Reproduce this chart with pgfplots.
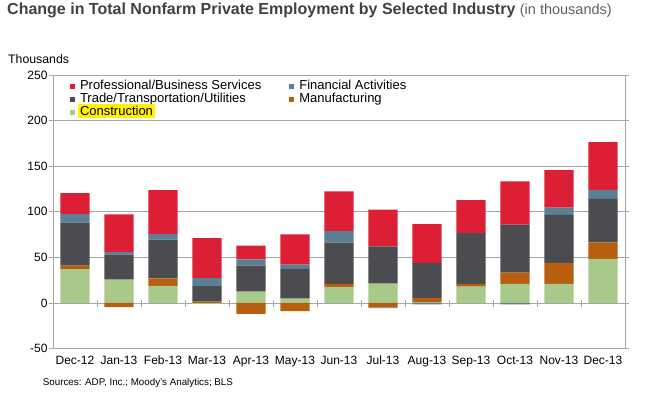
\documentclass[border=0pt]{standalone}
\usepackage{pgfplots}
\usepackage{pgfplotstable}
\pgfplotsset{compat=1.18}
\usepackage{fontspec}
\setmainfont{Liberation Sans}

\definecolor{prof}{RGB}{221,31,53}
\definecolor{fin}{RGB}{91,127,149}
\definecolor{trade}{RGB}{75,76,80}
\definecolor{mfg}{RGB}{184,95,15}
\definecolor{con}{RGB}{169,201,138}
\definecolor{gridgray}{RGB}{166,166,166}
\definecolor{titlegray}{RGB}{64,64,70}
\definecolor{subgray}{RGB}{96,96,100}

% positive parts (stacked upward)
\pgfplotstableread{
idx con  mfg  trade fin  prof
0   37   4    47    9.5  23
1   25.5 0    27.5  3    41
2   18.6 8.4  42.3  6.2  48.2
3   0    1.5  17    8.8  43.8
4   12.4 0    28.5  6.9  15
5   4.7  0    32.5  4.8  33.2
6   17.5 3.3  45.2  12.8 43.5
7   21.2 0    40.8  0    40.2
8   1    4.5  38.3  0    42.7
9   17.9 2.9  55.8  0    36.2
10  20.8 12.4 52.6  0    47.4
11  20.8 23   52.9  7.7  41.2
12  48.2 18.2 47.8  9.9  52.2
}\pos
% negative parts (stacked downward)
\pgfplotstableread{
idx con  mfg   fin
0   0    0     0
1   0    -4.7  0
2   0    0     0
3   -1.5 0     0
4   0    -12   0
5   0    -9    0
6   0    0     0
7   0    -5    -0.8
8   0    0     -1.5
9   0    0     0
10  0    0     -1.5
11  0    0     0
12  0    0     0
}\neg

\pgfplotsset{
  mybar/.style={fill=#1, draw=none,
    legend image code/.code={\fill[fill=#1] (0pt,-2.5pt) rectangle (5pt,2.5pt);}},
  common/.style={
    at={(0,0)}, anchor=south west,
    scale only axis, width=572pt, height=273.5pt,
    xmin=-0.5, xmax=12.5, ymin=-50, ymax=250,
    ybar stacked, bar width=0.66,
  }
}

\begin{document}
\begin{tikzpicture}
\path[use as bounding box] (-53pt,-44.5pt) rectangle (593pt,348.5pt);

\begin{axis}[common,
  xtick=data,
  xticklabels={Dec-12,Jan-13,Feb-13,Mar-13,Apr-13,May-13,Jun-13,Jul-13,Aug-13,Sep-13,Oct-13,Nov-13,Dec-13},
  ytick={-50,0,50,100,150,200,250},
  /pgf/number format/assume math mode=true,
  ymajorgrids, grid style={gridgray, line width=0.8pt},
  axis line style={gridgray, line width=0.8pt},
  x tick style={draw=none},
  y tick style={gridgray, line width=0.8pt},
  ytick align=outside, xtick align=outside, major tick length=4pt,
  tick label style={font=\fontsize{12}{12}\selectfont, text=black},
  yticklabel style={xshift=2pt},
  reverse legend,
  legend columns=2,
  legend cell align=left,
  legend style={draw=none, fill=none, inner sep=0pt, outer sep=0pt,
    at={(17pt,268.5pt)}, anchor=north west,
    font=\fontsize{13}{13}\selectfont,
    nodes={inner sep=0pt, text height=9.5pt, text depth=3.5pt},
    /tikz/every odd column/.style={column sep=5pt},
    /tikz/every even column/.style={column sep=28pt}},
]
\addplot[mybar=con] table[x=idx,y=con]{\pos};
\addlegendentry{\kern-2pt\setlength{\fboxsep}{2pt}\colorbox{yellow}{Construction}}
\addplot[mybar=mfg] table[x=idx,y=mfg]{\pos};
\addlegendentry{Manufacturing}
\addplot[mybar=trade] table[x=idx,y=trade]{\pos};
\addlegendentry{Trade/Transportation/Utilities}
\addplot[mybar=fin] table[x=idx,y=fin]{\pos};
\addlegendentry{Financial Activities}
\addplot[mybar=prof] table[x=idx,y=prof]{\pos};
\addlegendentry{Professional/Business Services}
\pgfplotsinvokeforeach{0.5,1.5,...,11.5}{
  \draw[gridgray, line width=0.8pt] ([yshift=3pt]axis cs:#1,0) -- ([yshift=-4pt]axis cs:#1,0);
}
\end{axis}

\begin{axis}[common, hide axis]
\addplot[mybar=con] table[x=idx,y=con]{\neg};
\addplot[mybar=mfg] table[x=idx,y=mfg]{\neg};
\addplot[mybar=fin] table[x=idx,y=fin]{\neg};
\end{axis}

\node[anchor=base west, inner sep=0pt, text=titlegray, font=\fontsize{16}{16}\selectfont\bfseries] at (-46pt,333.5pt)
  {Change in Total Nonfarm Private Employment by Selected Industry {\mdseries\fontsize{14.5}{14.5}\selectfont\color{subgray}(in thousands)}};
\node[anchor=base west, inner sep=0pt, font=\fontsize{12.3}{12.3}\selectfont] at (-45pt,284.5pt) {Thousands};
\node[anchor=base west, inner sep=0pt, font=\fontsize{9.8}{9.8}\selectfont] at (-10.3pt,-37.5pt) {Sources: ADP, Inc.; Moody's Analytics; BLS};
\end{tikzpicture}
\end{document}
